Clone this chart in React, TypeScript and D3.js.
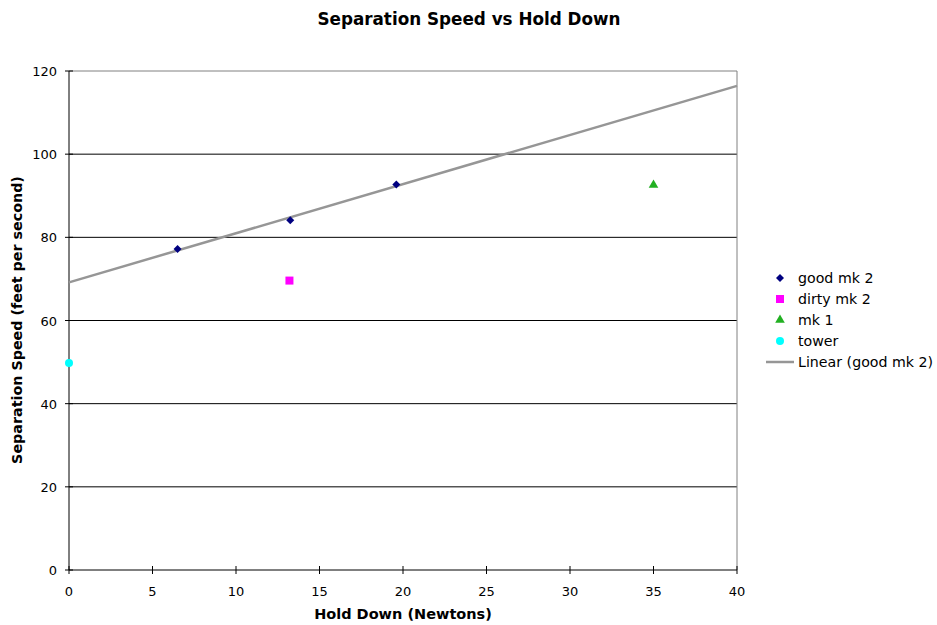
import React from "react";
import * as d3 from "d3";

const goodX = [6.5, 13.25, 19.6];
const goodY = [77.2, 84.1, 92.7];
const dirtyX = [13.2];
const dirtyY = [69.6];
const mk1X = [35];
const mk1Y = [92.6];
const towerX = [0];
const towerY = [49.8];
const xTicks = [0, 5, 10, 15, 20, 25, 30, 35, 40];
const yTicks = [0, 20, 40, 60, 80, 100, 120];

const W = 937, H = 625;
const L = 69, R = 737, T = 71, B = 570;
const font = "'DejaVu Sans', Verdana, sans-serif";

export default function App() {
  const x = d3.scaleLinear().domain([0, 40]).range([L, R]);
  const y = d3.scaleLinear().domain([0, 120]).range([B, T]);
  const n = goodX.length;
  const mx = d3.mean(goodX)!, my = d3.mean(goodY)!;
  let sxy = 0, sxx = 0;
  for (let i = 0; i < n; i++) { sxy += (goodX[i] - mx) * (goodY[i] - my); sxx += (goodX[i] - mx) ** 2; }
  const slope = sxy / sxx, icpt = my - slope * mx;
  const line = d3.line<number>().x(d => x(d)).y(d => y(icpt + slope * d));
  const diamond = "M0,-4L4,0L0,4L-4,0Z";
  const tri = d3.symbol().type(d3.symbolTriangle).size(40)()!;
  const legY = [278, 299, 320, 341, 362];
  return (
    <svg width={W} height={H} style={{ position: "absolute", left: 0, top: 0 }} fontFamily={font}>
      <rect width={W} height={H} fill="#fff" />
      <text x={469} y={25} textAnchor="middle" fontSize={16.8} fontWeight="bold">Separation Speed vs Hold Down</text>
      {yTicks.filter(t => t > 0 && t < 120).map(t => (
        <line key={t} x1={L} x2={R} y1={y(t)} y2={y(t)} stroke="#000" strokeWidth={1} />
      ))}
      <line x1={L} x2={R} y1={T} y2={T} stroke="#808080" />
      <line x1={R} x2={R} y1={T} y2={B} stroke="#808080" />
      <line x1={L} x2={L} y1={T} y2={B} stroke="#000" />
      <line x1={L} x2={R} y1={B} y2={B} stroke="#000" />
      {yTicks.map(t => (
        <g key={t}>
          <line x1={L - 4} x2={L + 4} y1={y(t)} y2={y(t)} stroke="#000" />
          <text x={L - 12} y={y(t) + 5} textAnchor="end" fontSize={13}>{t}</text>
        </g>
      ))}
      {xTicks.map(t => (
        <g key={t}>
          <line x1={x(t)} x2={x(t)} y1={B - 4} y2={B + 4} stroke="#000" />
          <text x={x(t)} y={B + 26} textAnchor="middle" fontSize={13}>{t}</text>
        </g>
      ))}
      <text x={403} y={619} textAnchor="middle" fontSize={14.5} fontWeight="bold">Hold Down (Newtons)</text>
      <text transform={`translate(22,${320}) rotate(-90)`} textAnchor="middle" fontSize={14.3} fontWeight="bold">Separation Speed (feet per second)</text>
      <path d={line([0, 40])!} stroke="#969696" strokeWidth={2.5} fill="none" />
      {goodX.map((v, i) => (
        <path key={i} d={diamond} transform={`translate(${x(v)},${y(goodY[i])})`} fill="#000080" />
      ))}
      {dirtyX.map((v, i) => (
        <rect key={i} x={x(v) - 4} y={y(dirtyY[i]) - 4} width={8} height={8} fill="#FF00FF" />
      ))}
      {mk1X.map((v, i) => (
        <path key={i} d={tri} transform={`translate(${x(v)},${y(mk1Y[i])})`} fill="#22B022" />
      ))}
      {towerX.map((v, i) => (
        <circle key={i} cx={x(v)} cy={y(towerY[i])} r={4} fill="#00FFFF" />
      ))}
      <g fontSize={14.2}>
        <path d={diamond} transform={`translate(780,${legY[0]})`} fill="#000080" />
        <text x={798} y={legY[0] + 5}>good mk 2</text>
        <rect x={776} y={legY[1] - 4} width={8} height={8} fill="#FF00FF" />
        <text x={798} y={legY[1] + 5}>dirty mk 2</text>
        <path d={tri} transform={`translate(780,${legY[2]})`} fill="#22B022" />
        <text x={798} y={legY[2] + 5}>mk 1</text>
        <circle cx={780} cy={legY[3]} r={4} fill="#00FFFF" />
        <text x={798} y={legY[3] + 5}>tower</text>
        <line x1={766} x2={794} y1={legY[4]} y2={legY[4]} stroke="#969696" strokeWidth={2.5} />
        <text x={798} y={legY[4] + 5}>Linear (good mk 2)</text>
      </g>
    </svg>
  );
}
